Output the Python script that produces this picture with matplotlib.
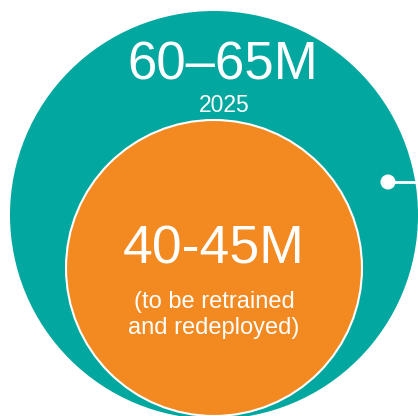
import matplotlib
matplotlib.use("Agg")
import matplotlib.pyplot as plt
from matplotlib.patches import Circle

plt.rcParams['font.family'] = ['Liberation Sans', 'DejaVu Sans']

# labels
totals = ["60–65M", "40-45M"]
captions = ["2025", "(to be retrained\nand redeployed)"]

teal = "#02A89F"
orange = "#F28A21"

fig = plt.figure(figsize=(4.18, 4.16), dpi=100)
ax = fig.add_axes([0, 0, 1, 1])
ax.set_xlim(0, 418)
ax.set_ylim(416, 0)
ax.set_aspect('equal')
ax.axis('off')

# outer circle (all workers)
ax.add_patch(Circle((214, 215), 204, facecolor=teal, edgecolor='none', zorder=1))
# inner circle (retrained)
ax.add_patch(Circle((214, 268), 148, facecolor=orange, edgecolor='white', lw=1.5, zorder=2))

# pointer dot with line to the right edge
ax.plot([388, 420], [182, 182], color='white', lw=2, zorder=3, solid_capstyle='butt')
ax.add_patch(Circle((388, 182), 7.5, facecolor='white', edgecolor='none', zorder=4))

ax.text(223, 80, totals[0], color='white', fontsize=38, ha='center', va='baseline', zorder=5)
ax.text(224, 112, captions[0], color='white', fontsize=16.5, ha='center', va='baseline', zorder=5)
ax.text(213.5, 264, totals[1], color='white', fontsize=38.5, ha='center', va='baseline', zorder=5)
ax.text(214, 315, captions[1], color='white', fontsize=17, ha='center', va='center',
        linespacing=1.2, zorder=5)

fig.savefig("out.png", dpi=100)
